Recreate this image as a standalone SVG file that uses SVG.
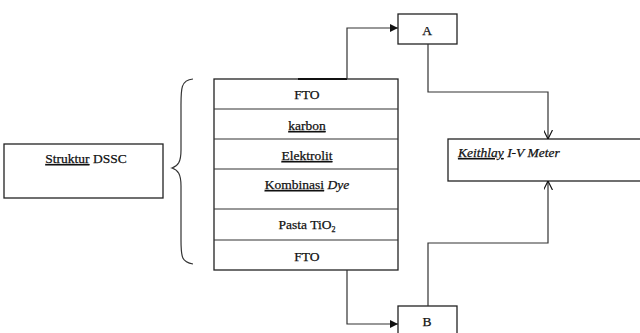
<svg xmlns="http://www.w3.org/2000/svg" width="640" height="333" viewBox="0 0 640 333">
<defs>
<style>
.box{fill:#fff;stroke:#222;stroke-width:1.3}
.ln{fill:none;stroke:#333;stroke-width:1.2}
text{font-family:'Liberation Serif','DejaVu Serif',serif;font-size:13.5px;fill:#111;text-anchor:middle;stroke:#111;stroke-width:0.25}
.u{text-decoration:underline dotted;text-decoration-color:#777}
</style>
<marker id="fa" viewBox="0 0 10 10" refX="10" refY="5" markerWidth="8" markerHeight="8" markerUnits="userSpaceOnUse" orient="auto"><path d="M0,0 L10,5 L0,10 z" fill="#111"/></marker>
<marker id="oa" viewBox="0 0 10 10" refX="10" refY="5" markerWidth="9" markerHeight="9" markerUnits="userSpaceOnUse" orient="auto"><path d="M0,0 L10,5 L0,10" fill="none" stroke="#111" stroke-width="1.3"/></marker>
</defs>
<rect width="640" height="333" fill="#fff"/>
<g id="struktur">
<rect class="box" x="4" y="144" width="159" height="54"/>
<text font-family="Liberation Serif, serif" x="86" y="163"><tspan class="u">Struktur</tspan> DSSC</text>
</g>
<g id="brace">
<path class="ln" d="M193,79 C180,80 181,90 181,110 L181,150 C181,162 178,166 172,168 C178,170 181,174 181,186 L181,240 C181,258 182,262 193,264"/>
</g>
<g id="stack">
<rect class="box" x="214" y="79" width="184" height="191"/>
<line class="ln" x1="214" y1="109" x2="398" y2="109"/>
<line class="ln" x1="214" y1="139" x2="398" y2="139"/>
<line class="ln" x1="214" y1="169" x2="398" y2="169"/>
<line class="ln" x1="214" y1="209" x2="398" y2="209"/>
<line class="ln" x1="214" y1="240" x2="398" y2="240"/>
<text font-family="Liberation Serif, serif" x="307" y="99">FTO</text>
<text font-family="Liberation Serif, serif" x="307" y="130"><tspan class="u">karbon</tspan></text>
<text font-family="Liberation Serif, serif" x="307" y="160"><tspan class="u">Elektrolit</tspan></text>
<text font-family="Liberation Serif, serif" x="307" y="189"><tspan class="u">Kombinasi</tspan> <tspan font-style="italic">Dye</tspan></text>
<text font-family="Liberation Serif, serif" x="307" y="229">Pasta TiO<tspan font-size="8" dy="3">2</tspan></text>
<text font-family="Liberation Serif, serif" x="307" y="261">FTO</text>
</g>
<g id="A">
<rect class="box" x="398" y="14" width="59" height="30"/>
<text font-family="Liberation Serif, serif" x="427" y="35">A</text>
</g>
<g id="B">
<rect class="box" x="398" y="306" width="59" height="40"/>
<text font-family="Liberation Serif, serif" x="427" y="326">B</text>
</g>
<g id="keithlay">
<rect class="box" x="448" y="139" width="200" height="42"/>
<text font-family="Liberation Serif, serif" x="458" y="157" font-style="italic" style="text-anchor:start"><tspan class="u">Keithlay</tspan> I-V Meter</text>
</g>
<g id="connectors">
<line x1="298" y1="79" x2="347" y2="79" stroke="#111" stroke-width="2.2"/>
<path class="ln" d="M347,79 V28 H398" marker-end="url(#fa)"/>
<path class="ln" d="M428,44 V92 H548 V139" marker-end="url(#oa)"/>
<path class="ln" d="M347,270 V324 H398" marker-end="url(#fa)"/>
<path class="ln" d="M428,306 V243 H548 V181" marker-end="url(#oa)"/>
</g>
</svg>
